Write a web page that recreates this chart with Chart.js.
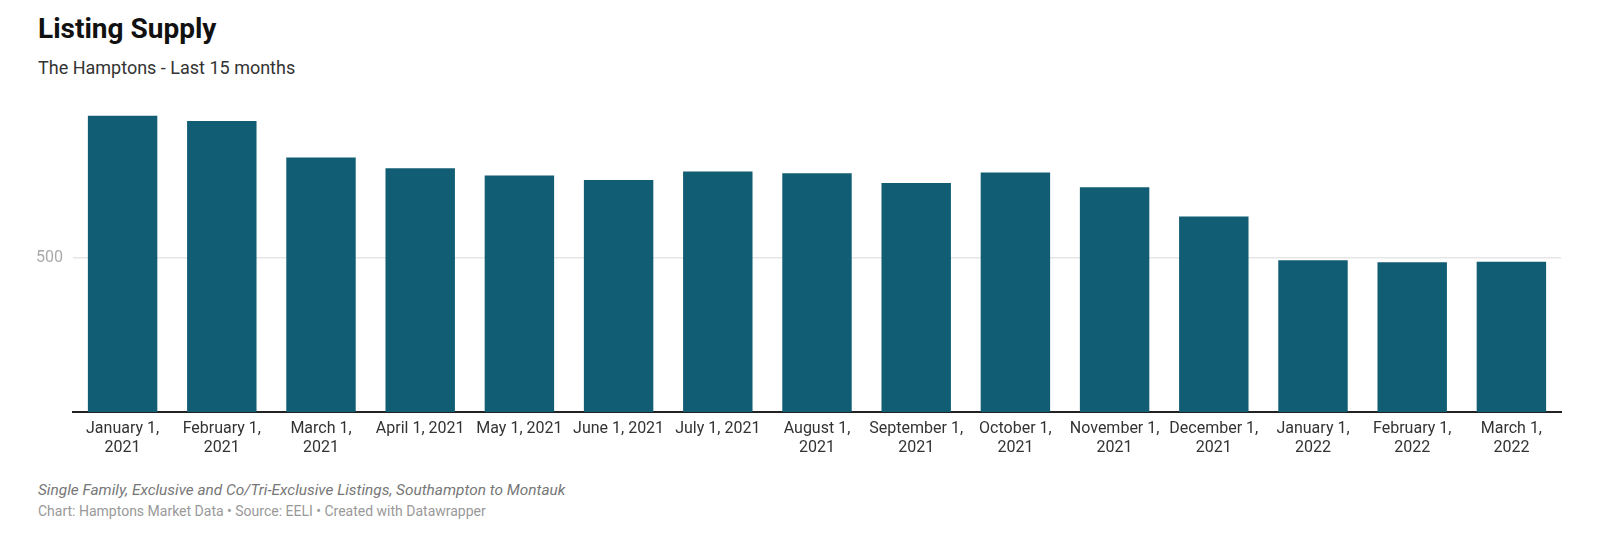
<!DOCTYPE html>
<html>
<head>
<meta charset="utf-8">
<script src="https://cdn.jsdelivr.net/npm/chart.js@4"></script>
<style>
  html, body { margin: 0; padding: 0; background: #fff; }
  body { width: 1600px; height: 533px; position: relative; overflow: hidden; font-family: Roboto, "Noto Sans", sans-serif; }
  .txt { position: absolute; left: 38px; white-space: nowrap; }
  #title { top: 12px; font-size: 28px; line-height: 34px; font-weight: 700; color: #111; }
  #subtitle { top: 57px; font-size: 18px; line-height: 22px; color: #333; }
  #notes { top: 480px; font-size: 15.4px; line-height: 20px; font-style: italic; color: #777; }
  #byline { top: 502px; font-size: 14px; line-height: 18px; color: #999; }
  #chartBox { position: absolute; left: 0; top: 103px; width: 1600px; height: 359px; }
</style>
</head>
<body>
<div class="txt" id="title">Listing Supply</div>
<div class="txt" id="subtitle">The Hamptons - Last 15 months</div>
<div id="chartBox"><canvas id="supplyChart"></canvas></div>
<div class="txt" id="notes">Single Family, Exclusive and Co/Tri-Exclusive Listings, Southampton to Montauk</div>
<div class="txt" id="byline">Chart: Hamptons Market Data • Source: EELI • Created with Datawrapper</div>

<script>
// ---- Data ----
const months = [
  ["January 1,", "2021"], ["February 1,", "2021"], ["March 1,", "2021"],
  "April 1, 2021", "May 1, 2021", "June 1, 2021", "July 1, 2021",
  ["August 1,", "2021"], ["September 1,", "2021"], ["October 1,", "2021"],
  ["November 1,", "2021"], ["December 1,", "2021"], ["January 1,", "2022"],
  ["February 1,", "2022"], ["March 1,", "2022"]
];
const listings = [959, 942, 824, 789, 765, 751, 778, 773, 741, 775, 727, 633, 491, 485, 486];
const yTicks = [500];

// ---- Chart ----
const ctx = document.getElementById("supplyChart").getContext("2d");
const supplyChart = new Chart(ctx, {
  type: "bar",
  data: {
    labels: months,
    datasets: [{
      label: "Listings",
      data: listings,
      backgroundColor: "#115d73",
      borderWidth: 0,
      categoryPercentage: 1,
      barPercentage: 0.7
    }]
  },
  options: {
    responsive: true,
    maintainAspectRatio: false,
    animation: false,
    layout: { padding: { left: 0, right: 39, top: 0, bottom: 0 } },
    plugins: {
      legend: { display: false },
      tooltip: { enabled: false }
    },
    scales: {
      x: {
        grid: { display: false, drawTicks: false },
        border: { display: true, color: "#222", width: 2 },
        ticks: {
          color: "#333",
          font: { family: "Roboto", size: 16, lineHeight: 1.16 },
          padding: 8,
          maxRotation: 0,
          autoSkip: false
        },
        afterFit: (scale) => {
          scale.height = 50;
          scale.paddingLeft = 0;
          scale.paddingRight = 0;
        }
      },
      y: {
        min: 0,
        max: 1000,
        afterBuildTicks: (scale) => { scale.ticks = yTicks.map(v => ({ value: v })); },
        grid: { color: "#e6e6e6", lineWidth: 1.5, drawTicks: false },
        border: { display: false },
        ticks: {
          color: "#aaaaaa",
          font: { family: "Roboto", size: 16 },
          padding: 10
        },
        afterFit: (scale) => {
          scale.width = 73;
          scale.paddingTop = 0;
          scale.paddingBottom = 0;
        }
      }
    }
  }
});
</script>
</body>
</html>
